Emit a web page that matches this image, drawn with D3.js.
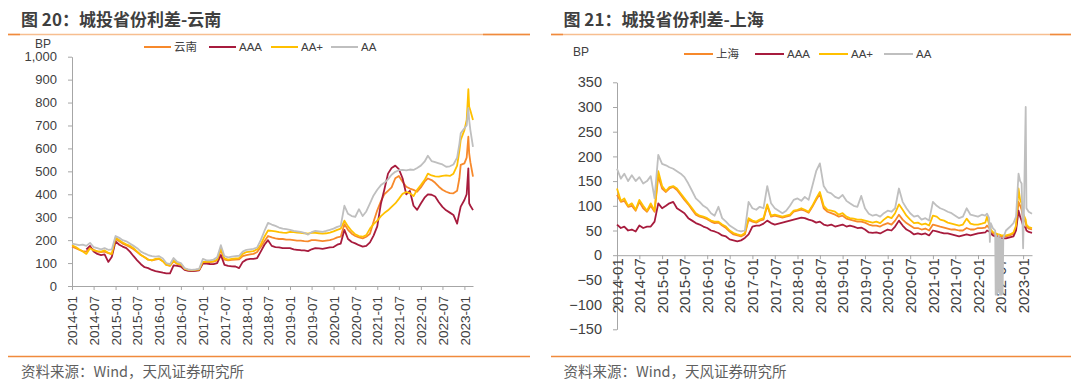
<!DOCTYPE html>
<html>
<head>
<meta charset="utf-8">
<script src="https://cdn.jsdelivr.net/npm/d3@7"></script>
<style>
  body { margin: 0; background: #fff; }
  svg { display: block; }
  text { font-family: "Liberation Sans", Arial, "Noto Sans CJK SC", sans-serif; }
  .title { font-family: "Noto Sans CJK SC", sans-serif; font-weight: 700; font-size: 17px; fill: #3f3f3f; }
  .source { font-family: "Noto Sans CJK SC", sans-serif; font-size: 14.5px; fill: #5f5f5f; }
</style>
</head>
<body>
<svg width="1080" height="386"></svg>
<script>
// monthly categories shared by both panels (2014-01 .. 2022-03)
const months = [
  "2014-01","2014-02","2014-03","2014-04","2014-05","2014-06","2014-07","2014-08","2014-09","2014-10","2014-11","2014-12",
  "2015-01","2015-02","2015-03","2015-04","2015-05","2015-06","2015-07","2015-08","2015-09","2015-10","2015-11","2015-12",
  "2016-01","2016-02","2016-03","2016-04","2016-05","2016-06","2016-07","2016-08","2016-09","2016-10","2016-11","2016-12",
  "2017-01","2017-02","2017-03","2017-04","2017-05","2017-06","2017-07","2017-08","2017-09","2017-10","2017-11","2017-12",
  "2018-01","2018-02","2018-03","2018-04","2018-05","2018-06","2018-07","2018-08","2018-09","2018-10","2018-11","2018-12",
  "2019-01","2019-02","2019-03","2019-04","2019-05","2019-06","2019-07","2019-08","2019-09","2019-10","2019-11","2019-12",
  "2020-01","2020-02","2020-03","2020-04","2020-05","2020-06","2020-07","2020-08","2020-09","2020-10","2020-11","2020-12",
  "2021-01","2021-02","2021-03","2021-04","2021-05","2021-06","2021-07","2021-08","2021-09","2021-10","2021-11","2021-12",
  "2022-01","2022-02","2022-03"
];

// extra dates after 2022-03 for each panel
const ynTail = ["2022-04-01","2022-05-01","2022-06-01","2022-07-01","2022-08-01","2022-09-01","2022-10-01",
  "2022-11-01","2022-11-20","2022-12-01","2023-01-01","2023-01-20","2023-02-03","2023-02-10","2023-02-20","2023-03-14"];
const shTail = ["2022-03-15","2022-04-01","2022-04-07","2022-04-14","2022-05-01","2022-05-20","2022-05-24","2022-05-28",
  "2022-06-02","2022-06-07","2022-06-12","2022-06-18","2022-06-28","2022-07-03","2022-07-08","2022-07-14","2022-07-19",
  "2022-07-25","2022-08-15","2022-09-15","2022-10-15","2022-11-05","2022-11-25","2022-12-08","2022-12-20","2023-01-01",
  "2023-01-08","2023-01-22","2023-01-28","2023-02-15","2023-03-14"];

const xTickLabels = ["2014-01","2014-07","2015-01","2015-07","2016-01","2016-07","2017-01","2017-07","2018-01","2018-07",
  "2019-01","2019-07","2020-01","2020-07","2021-01","2021-07","2022-01","2022-07","2023-01"];

const seriesNames = ["AAA", "AA+", "AA"];

// ---- 云南 (BP)
const ynRegion = [
  172,165,158,152,150,168,158,150,148,150,143,138,
  205,195,185,178,170,160,148,135,125,115,112,115,
  118,108,92,88,108,96,92,74,70,67,68,70,
  103,102,104,106,112,158,115,112,114,115,116,130,
  135,138,140,148,170,195,218,212,208,205,205,202,
  202,200,198,198,196,195,200,200,198,196,198,200,
  205,212,215,270,245,228,218,212,208,215,228,280,
  330,370,400,415,430,470,480,455,433,425,419,411,
  430,455,469,
  462,450,433,420,411,405,404,415,470,528,535,560,651,578,540,477
];
const ynAAA = [
  null,null,null,null,160,175,150,140,135,138,105,128,
  195,180,172,165,150,130,112,95,82,78,70,65,
  62,58,55,55,90,88,85,70,66,65,66,68,
  98,98,96,95,100,135,92,88,86,85,78,105,
  115,118,118,122,150,180,200,175,170,168,165,165,
  165,160,158,156,155,152,160,165,164,162,165,168,
  170,180,185,245,205,192,186,178,172,175,190,220,
  260,360,420,490,515,525,510,470,400,415,350,332,
  360,385,400,
  398,390,365,345,330,320,310,272,320,346,375,400,513,360,350,331
];
const ynAAplus = [
  178,170,160,150,140,165,155,152,150,155,145,140,
  210,200,190,182,175,165,150,135,125,115,112,118,
  120,108,92,90,110,98,95,75,70,68,70,72,
  105,105,106,108,115,164,120,115,118,120,122,140,
  148,150,152,160,180,215,242,240,238,235,233,232,
  236,235,233,232,230,228,232,232,230,228,230,233,
  238,245,250,285,260,240,225,218,215,222,250,270,
  285,305,318,330,345,360,380,402,410,405,392,420,
  440,462,490,
  482,478,477,480,482,480,490,525,590,637,680,724,858,782,765,724
];
const ynAA = [
  185,182,178,180,175,188,170,165,160,165,158,160,
  218,210,200,195,185,175,165,150,142,135,130,128,
  130,120,100,95,122,105,100,78,72,70,72,75,
  118,112,112,115,125,178,130,125,128,130,132,150,
  158,160,162,168,200,240,275,268,262,255,250,248,
  245,240,238,236,232,224,235,240,238,236,240,245,
  250,258,262,350,315,305,302,335,305,325,360,395,
  420,440,450,465,485,498,505,506,504,508,506,515,
  525,542,568,
  545,540,535,530,520,522,530,560,620,666,688,700,776,724,680,607
];
const ynYTicks = [0,100,200,300,400,500,600,700,800,900,1000];

// ---- 上海 (BP)
const shRegion = [
  122,108,110,98,100,90,108,95,88,100,88,160,
  135,128,135,138,132,122,112,103,92,82,78,76,
  73,68,65,66,60,55,48,42,40,38,42,72,
  68,66,70,72,100,78,80,78,76,78,80,88,
  90,92,90,86,98,112,124,95,88,85,82,78,
  80,74,72,70,68,68,66,62,60,60,58,62,
  65,62,70,82,72,65,60,55,55,52,54,50,
  62,60,58,56,54,52,52,50,50,55,52,52,
  55,55,56,
  60,55,52,48,44,42,42,41,41,40,40,40,39,39,38,38,38,38,38,40,43,55,108,100,92,75,72,66,58,54,52
];
const shAAA = [
  62,55,58,50,52,48,60,55,58,58,68,105,
  95,100,105,108,95,90,85,75,70,65,62,58,
  55,50,48,45,40,38,32,30,28,30,35,42,
  58,60,60,64,70,65,62,64,66,68,70,72,
  74,76,75,72,70,66,68,62,60,62,58,60,
  62,58,60,58,55,56,52,46,45,46,44,48,
  52,50,58,70,60,52,48,42,44,42,44,40,
  50,48,46,44,44,42,40,38,40,42,40,42,
  44,45,46,
  50,48,47,44,40,38,38,37,37,36,36,36,35,35,34,34,34,34,34,36,38,50,90,78,70,60,58,55,50,47,45
];
const shAAplus = [
  135,110,115,100,105,92,112,100,90,105,90,170,
  140,130,138,140,135,125,115,105,95,85,80,78,
  75,70,68,68,62,58,50,45,42,40,45,75,
  70,68,72,75,103,80,82,80,78,80,82,90,
  92,95,92,88,100,115,128,100,92,90,88,82,
  85,78,75,74,72,72,70,68,66,68,65,72,
  78,75,85,103,92,80,72,65,66,62,64,60,
  80,78,72,70,66,64,62,60,62,74,64,62,
  62,64,66,
  78,62,58,52,47,45,44,44,43,43,42,42,41,41,40,40,40,40,40,42,46,60,135,112,105,84,80,72,62,57,55
];
const shAA = [
  175,155,165,150,162,150,158,145,150,160,115,203,
  185,182,178,175,170,165,158,145,130,115,108,100,
  95,85,80,98,75,68,60,55,50,48,50,108,
  95,92,98,95,140,105,95,90,85,90,100,112,
  115,110,118,112,140,170,186,140,128,125,118,115,
  122,110,105,100,98,120,95,84,80,82,78,85,
  90,88,95,135,108,95,85,78,80,72,75,70,
  108,100,95,92,88,85,80,75,78,95,82,80,
  78,82,80,
  84,75,27,65,55,50,-80,40,-80,35,-75,40,-80,35,-80,30,-78,35,50,57,65,78,165,150,145,14,95,300,95,88,84
];
const shYTicks = [-150,-100,-50,0,50,100,150,200,250,300,350];

const colors = ["#F7892B", "#A71B3D", "#FFC000", "#BFBFBF"];

const parseM = d3.timeParse("%Y-%m"), parseD = d3.timeParse("%Y-%m-%d");
const toDate = s => s.length === 7 ? parseM(s) : parseD(s);
const xTickDates = xTickLabels.map(toDate);

const svg = d3.select("svg");

function drawPanel(p) {
  const g = svg.append("g");

  // title + orange rules
  g.append("text").attr("class", "title").attr("x", p.titleX).attr("y", 26).text(p.title);
  g.append("line").attr("x1", p.ruleX0).attr("x2", p.ruleX1).attr("y1", 34.5).attr("y2", 34.5)
    .attr("stroke", "#F7BE90").attr("stroke-width", 1.5);
  g.append("line").attr("x1", p.ruleX0).attr("x2", p.ruleX0 + 12).attr("y1", 34.5).attr("y2", 34.5)
    .attr("stroke", "#F08A3C").attr("stroke-width", 1.5);
  g.append("line").attr("x1", p.darkEnd).attr("x2", p.ruleX1).attr("y1", 34.5).attr("y2", 34.5)
    .attr("stroke", "#F08A3C").attr("stroke-width", 1.5);
  g.append("line").attr("x1", p.ruleX0).attr("x2", p.ruleX1).attr("y1", 356.5).attr("y2", 356.5)
    .attr("stroke", "#F08A3C").attr("stroke-width", 1.5);
  g.append("text").attr("class", "source").attr("x", p.titleX).attr("y", 377)
    .text("资料来源：Wind，天风证券研究所");

  const x = d3.scaleTime()
    .domain([toDate("2014-01"), toDate("2023-03-14")])
    .range([p.x0, p.x1]);
  const y = d3.scaleLinear()
    .domain(p.yDomain)
    .range([p.yBottom, p.yTop]);

  // y axis
  const ya = g.append("g")
    .attr("transform", `translate(${p.x0},0)`)
    .call(d3.axisLeft(y).tickValues(p.yTicks).tickFormat(d3.format(",")).tickSize(4).tickSizeOuter(0).tickPadding(p.yPad));
  ya.selectAll("text").attr("font-size", p.yFont).attr("font-family", null).attr("fill", "#404040");

  // x axis at value 0
  const xa = g.append("g")
    .attr("transform", `translate(0,${y(0)})`)
    .call(d3.axisBottom(x).tickValues(xTickDates).tickFormat(d3.timeFormat("%Y-%m")).tickSize(4).tickSizeOuter(0));
  xa.selectAll("text")
    .attr("transform", "rotate(-90)")
    .attr("text-anchor", "end")
    .attr("x", -p.xLabelOff)
    .attr("y", 0)
    .attr("dy", "0.35em")
    .attr("font-size", p.xFont)
    .attr("fill", "#404040");
  g.selectAll(".domain, .tick line").attr("stroke", "#a6a6a6");

  g.append("text").attr("x", p.bpX).attr("y", p.bpY).attr("text-anchor", "middle")
    .attr("font-size", 12).attr("fill", "#404040").text("BP");

  // lines
  const dates = months.concat(p.tail).map(toDate);
  const line = d3.line()
    .defined(d => d.v != null)
    .x(d => x(d.date))
    .y(d => y(d.v));
  p.series.forEach((vals, i) => {
    const pts = vals.map((v, k) => ({ date: dates[k], v: v }));
    g.append("path")
      .datum(pts)
      .attr("fill", "none")
      .attr("stroke", colors[i])
      .attr("stroke-width", 1.8)
      .attr("stroke-linejoin", "round")
      .attr("d", line);
  });

  // legend
  const names = [p.region].concat(seriesNames);
  names.forEach((n, i) => {
    const lx = p.legendX[i];
    g.append("line").attr("x1", lx).attr("x2", lx + p.legendLen).attr("y1", p.legendY).attr("y2", p.legendY)
      .attr("stroke", colors[i]).attr("stroke-width", 2);
    g.append("text").attr("x", lx + p.legendLen + 3).attr("y", p.legendY + 4)
      .attr("font-size", 11.5).attr("fill", "#404040").text(n);
  });
}

drawPanel({
  title: "图 20：城投省份利差-云南", region: "云南",
  titleX: 21, ruleX0: 8, ruleX1: 530, darkEnd: 483,
  x0: 72, x1: 473, yDomain: [0, 1000], yBottom: 286, yTop: 56.7,
  yTicks: ynYTicks, yPad: 11, yFont: 13, xFont: 13.5, xLabelOff: 10,
  bpX: 43, bpY: 48,
  tail: ynTail, series: [ynRegion, ynAAA, ynAAplus, ynAA],
  legendX: [144, 209, 271, 331], legendLen: 27, legendY: 47
});

drawPanel({
  title: "图 21：城投省份利差-上海", region: "上海",
  titleX: 563.5, ruleX0: 551, ruleX1: 1071, darkEnd: 1050,
  x0: 617, x1: 1032, yDomain: [-150, 350], yBottom: 329.3, yTop: 82.3,
  yTicks: shYTicks, yPad: 11, yFont: 14.5, xFont: 15, xLabelOff: 3,
  bpX: 581, bpY: 56,
  tail: shTail, series: [shRegion, shAAA, shAAplus, shAA],
  legendX: [684, 755, 819, 884], legendLen: 29, legendY: 54
});
</script>
</body>
</html>
